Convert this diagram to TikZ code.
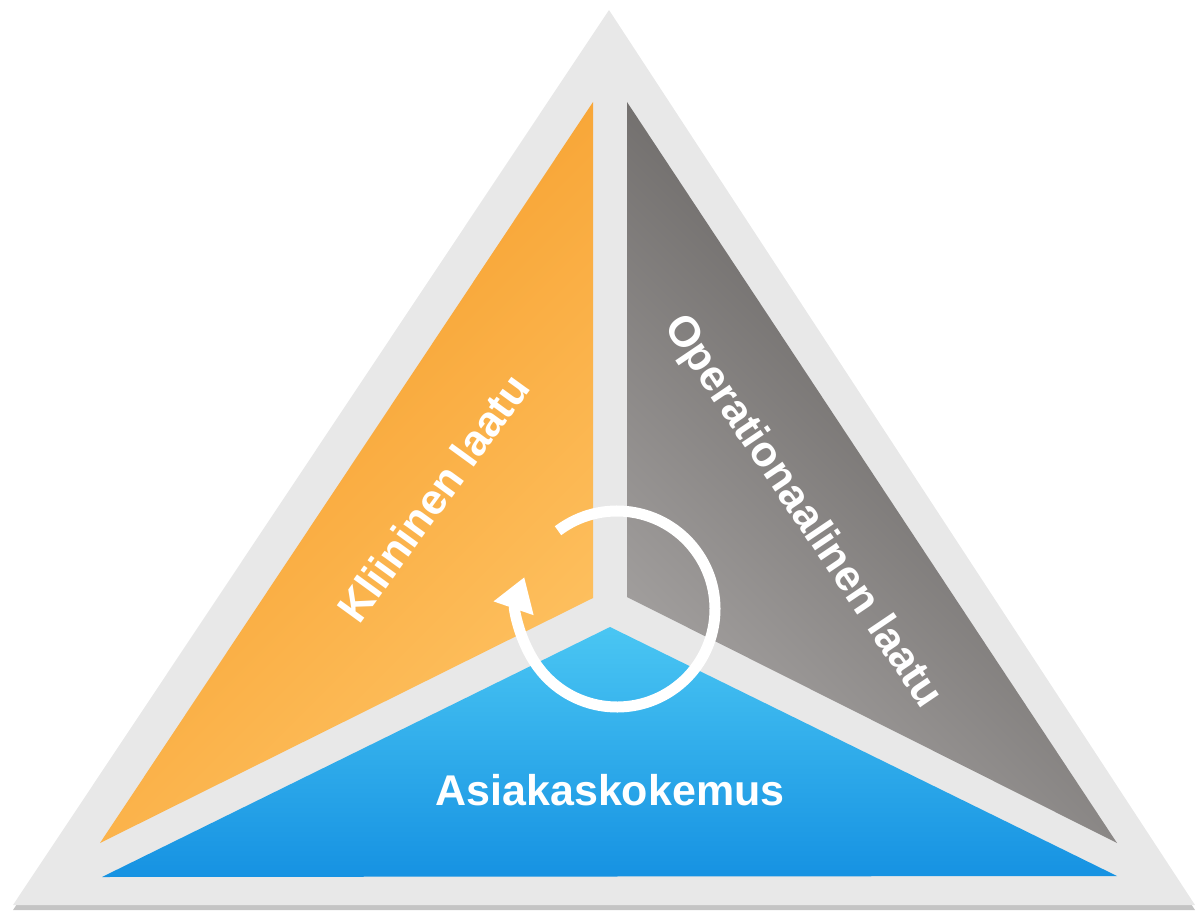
\documentclass[tikz,border=0pt]{standalone}
\usepackage{fontspec}
\setmainfont{Liberation Sans}
\usetikzlibrary{arrows.meta}
\definecolor{tricolor0000}{RGB}{232,232,232}
\definecolor{tricolor0001}{RGB}{196,196,196}
\definecolor{tricolor0002}{RGB}{245,152,34}
\definecolor{tricolor0003}{RGB}{254,194,98}
\definecolor{tricolor0004}{RGB}{88,85,83}
\definecolor{tricolor0005}{RGB}{166,163,162}
\definecolor{tricolor0006}{RGB}{74,198,243}
\definecolor{tricolor0007}{RGB}{22,146,226}

\begin{document}
\begin{tikzpicture}[yscale=-1
,tstyle0/.style={fill=tricolor0000}
,tstyle1/.style={fill=tricolor0001}
,tstyle2/.style={shading=axis,top color=tricolor0002,bottom color=tricolor0003,shading angle=45}
,tstyle3/.style={shading=axis,top color=tricolor0004,bottom color=tricolor0005,shading angle=-45}
,tstyle4/.style={shading=axis,top color=tricolor0006,bottom color=tricolor0007}
,astyle/.style={draw=white,line width=11pt,-{Triangle[width=40pt,length=33pt]}}
,lstyle/.style={text=white,inner sep=0pt,font=\fontsize{43pt}{50pt}\selectfont\bfseries}
]
\useasboundingbox (0pt,0pt) rectangle (1197pt,915pt);
% frame
\fill[tstyle1] (609pt,14pt) -- (1195pt,910pt) -- (13pt,910pt) -- cycle;
\fill[tstyle0] (609pt,10pt) -- (1195pt,905pt) -- (13pt,905pt) -- cycle;
% three parts
\shade[tstyle2] (593pt,102pt) -- (593pt,598pt) -- (100pt,843pt) -- cycle;
\shade[tstyle3] (627pt,102pt) -- (1117pt,843pt) -- (627pt,597pt) -- cycle;
\shade[tstyle4] (610pt,627pt) -- (1117pt,876pt) -- (102pt,877pt) -- cycle;
% cycle arrow
\draw[astyle] (617pt,609pt) ++(233:98pt) arc (233:559:98pt);
\node[lstyle,rotate=54] (kl) at (433pt,498pt) {Kliininen laatu};
\node[lstyle,rotate=-56] (ol) at (802pt,512pt) {Operationaalinen laatu};
\node[lstyle] (ak) at (610pt,790pt) {Asiakaskokemus};
\end{tikzpicture}
\end{document}
